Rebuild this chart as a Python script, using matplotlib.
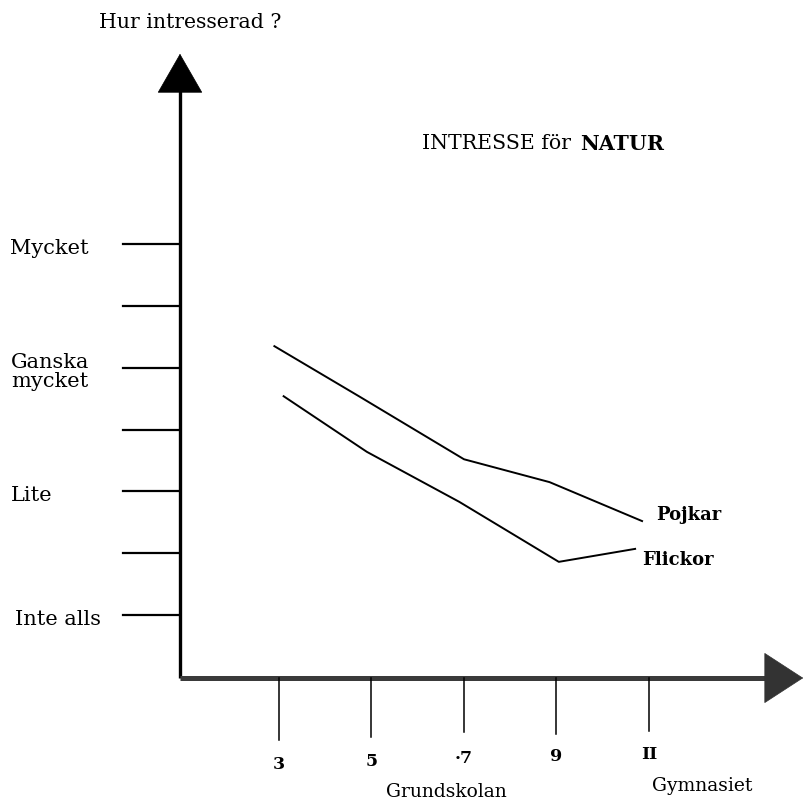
import matplotlib
matplotlib.use("Agg")
import matplotlib.pyplot as plt

# Data (grade, interest level 0=Inte alls ... 6=Mycket)
level_labels = ["Inte alls", "", "Lite", "", "Ganska\nmycket", "", "Mycket"]
level_values = [0, 1, 2, 3, 4, 5, 6]
grade_ticks = [3, 5, 7, 9, 11]
grade_tick_labels = ["3", "5", "·7", "9", "II"]

pojkar_x = [2.9, 4.75, 7.0, 8.85, 10.85]
pojkar_y = [4.35, 3.53, 2.52, 2.15, 1.52]
flickor_x = [3.1, 4.9, 6.9, 9.05, 10.7]
flickor_y = [3.54, 2.64, 1.83, 0.86, 1.07]

W, H = 807, 804
fig = plt.figure(figsize=(W / 100, H / 100), dpi=100)
ax = fig.add_axes([0, 0, 1, 1])
ax.set_axis_off()

# pixel mapping: x_px = 279 + (g-3)*46.25 ; y_px(top) = 616 - v*61.8
gx = 46.25
vy = 61.8
ax.set_xlim(3 - 279 / gx, 3 + (W - 279) / gx)
ax.set_ylim((616 - H) / vy, 616 / vy)

def px2g(px):
    return 3 + (px - 279) / gx

def py2v(py):
    return (616 - py) / vy

serif = ["DejaVu Serif"]

y_axis_x = px2g(180)
x_axis_y = py2v(679)

# Y axis with arrow
ax.plot([y_axis_x, y_axis_x], [x_axis_y, py2v(85)], color="black", lw=2.4,
        solid_capstyle="butt")
ax.annotate("", xy=(y_axis_x, py2v(52)), xytext=(y_axis_x, py2v(95)),
            arrowprops=dict(arrowstyle="-|>,head_length=0.4,head_width=0.23",
                            mutation_scale=68, color="black", lw=0.5))
# X axis with arrow
ax.plot([y_axis_x, px2g(780)], [x_axis_y, x_axis_y], color="#3a3a3a", lw=3.6,
        solid_capstyle="butt")
ax.annotate("", xy=(px2g(806), x_axis_y), xytext=(px2g(770), x_axis_y),
            arrowprops=dict(arrowstyle="-|>,head_length=0.4,head_width=0.26",
                            mutation_scale=68, color="#333333", lw=0.5))

# Y ticks and labels
label_left = [15, 10, 11, 10, 11, 10, 10]
for v, lab, lx in zip(level_values, level_labels, label_left):
    ax.plot([px2g(123), y_axis_x], [v, v], color="black", lw=1.6)
    if lab:
        ax.text(px2g(lx), v - 0.05, lab, family=serif, fontsize=15,
                ha="left", va="center", linespacing=1.05)

# X ticks and labels
tick_bottoms = [741, 738, 733, 735, 732]
label_y = [765, 762, 759, 757, 755]
for g, lab, tb, ly in zip(grade_ticks, grade_tick_labels, tick_bottoms, label_y):
    ax.plot([g, g], [x_axis_y, py2v(tb)], color="black", lw=1.1)
    ax.text(g, py2v(ly), lab, family=serif, fontsize=12.5, ha="center",
            va="center", fontweight="bold")

ax.text(px2g(446), py2v(792), "Grundskolan", family=serif, fontsize=13.5,
        ha="center", va="center")
ax.text(px2g(702), py2v(786), "Gymnasiet", family=serif, fontsize=13.5,
        ha="center", va="center")

# Lines
ax.plot(pojkar_x, pojkar_y, color="black", lw=1.4)
ax.plot(flickor_x, flickor_y, color="black", lw=1.4)
ax.text(px2g(656), py2v(515), "Pojkar", family=serif,
        fontsize=13, fontweight="bold", ha="left", va="center")
ax.text(px2g(642), py2v(560), "Flickor", family=serif,
        fontsize=13, fontweight="bold", ha="left", va="center")

# Titles
ax.text(px2g(99), py2v(22), "Hur intresserad ?", family=serif, fontsize=14.7,
        ha="left", va="center")
t1 = ax.text(px2g(422), py2v(144), "INTRESSE för", family=serif, fontsize=14.8,
             ha="left", va="center")
fig.canvas.draw()
bb = t1.get_window_extent()
x_end = ax.transData.inverted().transform((bb.x1 + 9, 0))[0]
ax.text(x_end, py2v(144), "NATUR", family=serif, fontsize=14.8,
        ha="left", va="center", fontweight="bold")

fig.savefig("out.png", dpi=100, facecolor="white")
